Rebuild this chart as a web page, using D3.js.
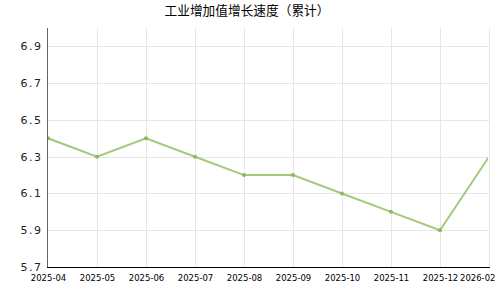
<!DOCTYPE html>
<html>
<head>
<meta charset="utf-8">
<script src="https://cdn.jsdelivr.net/npm/d3@7"></script>
<style>
  body { margin: 0; background: #fff; }
  svg { display: block; }
</style>
</head>
<body>
<div id="chart"></div>
<script>
// data
const titleText = "工业增加值增长速度（累计）";
const months = ["2025-04", "2025-05", "2025-06", "2025-07", "2025-08",
                "2025-09", "2025-10", "2025-11", "2025-12", "2026-02"];
const growth = [6.4, 6.3, 6.4, 6.3, 6.2, 6.2, 6.1, 6.0, 5.9, 6.3];
const yTicks = [5.7, 5.9, 6.1, 6.3, 6.5, 6.7, 6.9];

const W = 500, H = 300;
const m = { left: 48, right: 11, top: 28, bottom: 33 };

const svg = d3.select("#chart").append("svg")
  .attr("width", W).attr("height", H);

const x = d3.scalePoint().domain(months).range([m.left, W - m.right]);
const y = d3.scaleLinear().domain([5.7, 7.0]).range([H - m.bottom, m.top]);

// title
svg.append("text")
  .attr("x", 247).attr("y", 15)
  .attr("text-anchor", "middle")
  .style("font-family", "'Noto Sans CJK SC', sans-serif")
  .style("font-size", "12.7px")
  .attr("fill", "#000")
  .text(titleText);

// grid
const grid = svg.append("g");
grid.selectAll(".hg").data(yTicks.slice(1)).join("line")
  .attr("x1", m.left).attr("x2", W - m.right)
  .attr("y1", d => Math.round(y(d)) + 0.5).attr("y2", d => Math.round(y(d)) + 0.5)
  .attr("stroke", "#e6e6e6");
grid.selectAll(".vg").data(months.slice(1)).join("line")
  .attr("x1", d => Math.round(x(d)) + 0.5).attr("x2", d => Math.round(x(d)) + 0.5)
  .attr("y1", m.top).attr("y2", H - m.bottom)
  .attr("stroke", "#e6e6e6");

// y axis
const yAxis = svg.append("g")
  .attr("transform", `translate(${m.left - 0.5},0)`)
  .call(d3.axisLeft(y).tickValues(yTicks).tickSize(0).tickPadding(5).tickFormat(d3.format(".1f")));
yAxis.select(".domain").attr("stroke", "#666").attr("d", `M0,${m.top}V${H - m.bottom}`);
yAxis.selectAll("text")
  .style("font-family", "'DejaVu Sans', sans-serif")
  .style("font-size", "11px")
  .style("letter-spacing", "1.5px")
  .attr("fill", "#222");

// x axis
const xAxis = svg.append("g")
  .attr("transform", `translate(0,${H - m.bottom + 0.5})`)
  .call(d3.axisBottom(x).tickSize(0).tickPadding(7));
xAxis.select(".domain").attr("stroke", "#000").attr("stroke-width", 1.2)
  .attr("d", `M${m.left - 1},0H${W - m.right + 1}`);
xAxis.selectAll("text")
  .style("font-family", "'DejaVu Sans', sans-serif")
  .style("font-size", "8.5px")
  .attr("fill", "#000")
  .attr("text-anchor", (d, i) => i === months.length - 1 ? "end" : "middle")
  .attr("x", (d, i) => i === months.length - 1 ? 6 : 0);

// line, clipped to the plot area
svg.append("clipPath").attr("id", "plot")
  .append("rect").attr("x", m.left).attr("y", m.top)
  .attr("width", W - m.right - m.left - 1).attr("height", H - m.bottom - m.top);

const pts = months.map((d, i) => [d, growth[i]]);
const plot = svg.append("g").attr("clip-path", "url(#plot)");
plot.append("path")
  .datum(pts)
  .attr("fill", "none")
  .attr("stroke", "#a5c97c")
  .attr("stroke-width", 2)
  .attr("d", d3.line().x(d => x(d[0])).y(d => y(d[1])));
plot.selectAll("circle").data(pts.slice(0, -1)).join("circle")
  .attr("cx", d => x(d[0])).attr("cy", d => y(d[1]))
  .attr("r", 2)
  .attr("fill", "#8cb85c");
</script>
</body>
</html>
